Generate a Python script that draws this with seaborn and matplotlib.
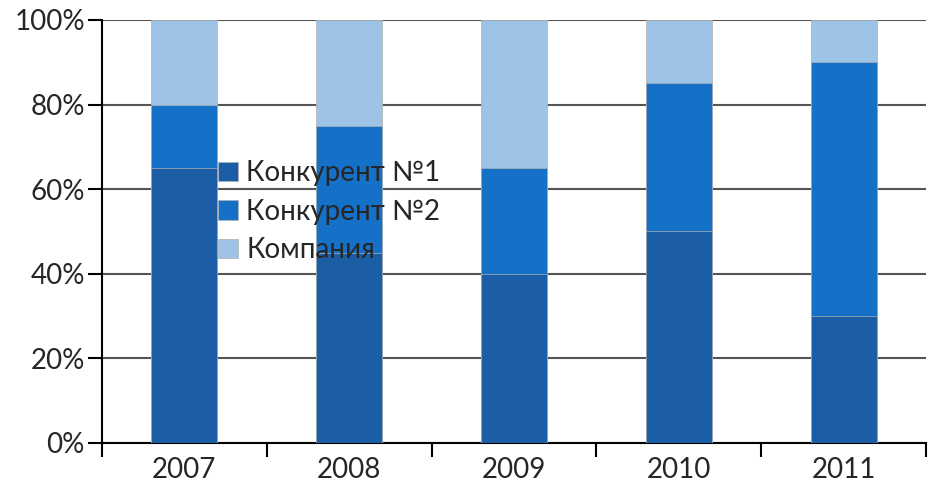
import pandas as pd
import seaborn as sns
import matplotlib.pyplot as plt
from matplotlib.patches import Patch
from matplotlib.ticker import PercentFormatter, FixedLocator

# данные
years = ['2007', '2008', '2009', '2010', '2011']
competitor1 = [65, 45, 40, 50, 30]
competitor2 = [15, 30, 25, 35, 60]
company = [20, 25, 35, 15, 10]
series_names = ['Конкурент №1', 'Конкурент №2', 'Компания']
colors = ['#1B5EA6', '#1570C8', '#9DC3E6']

df = pd.DataFrame({'year': years, 'k1': competitor1, 'k2': competitor2, 'comp': company})
df['top2'] = df['k1'] + df['k2']
df['top3'] = df['top2'] + df['comp']

sns.set_style('white')
plt.rcParams['font.family'] = ['Lato', 'DejaVu Sans']

fig = plt.figure(figsize=(9.32, 4.92), dpi=100)
ax = fig.add_axes([0.109, 0.0996, 0.885, 0.86])

# stacked bars: draw cumulative totals back to front
for col, c in zip(['top3', 'top2', 'k1'], colors[::-1]):
    sns.barplot(data=df, x='year', y=col, color=c, width=0.4, ax=ax,
                edgecolor='#b0b0b0', linewidth=0.5, saturation=1, zorder=3)

ax.set_ylim(0, 100)
ax.set_xlim(-0.5, 4.5)
ax.set_yticks(range(0, 101, 20))
ax.yaxis.set_major_formatter(PercentFormatter(decimals=0))
ax.yaxis.grid(True, color='#555555', linewidth=1.5, zorder=0)
ax.set_axisbelow(True)
ax.set_xlabel('')
ax.set_ylabel('')

for s in ['top', 'right']:
    ax.spines[s].set_visible(False)
ax.spines['left'].set_color('black')
ax.spines['bottom'].set_color('black')
ax.spines['left'].set_linewidth(1.5)
ax.spines['bottom'].set_linewidth(1.5)

ax.tick_params(axis='y', direction='out', length=10, width=1.5, color='black',
               labelsize=20, labelcolor='#262626', left=True, pad=2)
ax.tick_params(axis='x', which='major', length=0, labelsize=20, labelcolor='#262626', pad=10)
ax.xaxis.set_minor_locator(FixedLocator([i - 0.5 for i in range(len(years) + 1)]))
ax.tick_params(axis='x', which='minor', direction='out', length=10, width=1.5, color='black', bottom=True)

handles = [Patch(facecolor=c, edgecolor='#b0b0b0', linewidth=0.5) for c in colors]
leg = ax.legend(handles, series_names, loc='upper left', bbox_to_anchor=(0.128, 0.695),
                frameon=False, fontsize=20, handlelength=0.7, handleheight=0.7,
                handletextpad=0.3, labelspacing=0.45, borderaxespad=0)
leg.set_zorder(10)
for t in leg.get_texts():
    t.set_color('#262626')

plt.savefig('out.png', dpi=100)
